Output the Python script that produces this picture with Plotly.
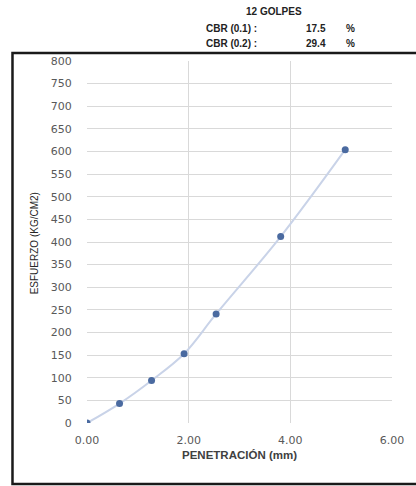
import plotly.graph_objects as go

penetracion = [0.0, 0.64, 1.27, 1.91, 2.54, 3.81, 5.08]
esfuerzo = [0, 43, 94, 153, 241, 412, 604]
header_title = "12 GOLPES"
cbr_labels = ["CBR (0.1) :", "CBR (0.2) :"]
cbr_values = ["17.5", "29.4"]

W, H = 416, 486
L, R, T, B = 87, 22, 61, 63
pw, ph = W - L - R, H - T - B

def px(x):
    return (x - L) / pw

def py(y):
    return (H - B - y) / ph

fig = go.Figure()
fig.add_trace(go.Scatter(
    x=penetracion, y=esfuerzo, mode="lines+markers",
    line=dict(color="#c9d3e8", width=2, shape="spline"),
    marker=dict(color="#4a6aa0", size=7),
    hoverinfo="x+y", showlegend=False))

tickfont = dict(family="DejaVu Sans, Liberation Sans", size=11, color="#595959")
fig.update_xaxes(range=[0, 6], dtick=2, tickformat=".2f", showgrid=True,
                 gridcolor="#d9d9d9", gridwidth=1, zeroline=False, showline=False,
                 tickfont=tickfont, ticks="outside", ticklen=7,
                 tickcolor="rgba(0,0,0,0)", fixedrange=True,
                 title=dict(text="<b>PENETRACIÓN (mm)</b>",
                            font=dict(family="Liberation Sans, Arial", size=11.5, color="#404040"),
                            standoff=4))
fig.update_yaxes(range=[0, 800], dtick=50, showgrid=True, gridcolor="#d9d9d9",
                 gridwidth=1, zeroline=False, showline=False, tickfont=tickfont,
                 ticks="outside", ticklen=12, tickcolor="rgba(0,0,0,0)", fixedrange=True)

hdr_font = dict(family="Liberation Sans, Arial", size=10, color="#222222")
annotations = [
    dict(text="ESFUERZO (KG/CM2)", x=px(35), y=py(243), textangle=-90,
         font=dict(family="Liberation Sans Narrow, Liberation Sans, Arial", size=10, color="#262626")),
    dict(text="<b>" + header_title + "</b>", x=px(275), y=py(12), font=hdr_font),
]
for i, (lab, val) in enumerate(zip(cbr_labels, cbr_values)):
    yy = py(28 + 16 * i)
    annotations.append(dict(text="<b>" + lab + "</b>", x=px(205), y=yy, xanchor="left", font=hdr_font))
    annotations.append(dict(text="<b>" + val + "</b>", x=px(317), y=yy, font=hdr_font))
    annotations.append(dict(text="<b>%</b>", x=px(352), y=yy, font=hdr_font))
for a in annotations:
    a.update(xref="paper", yref="paper", showarrow=False)
    a.setdefault("xanchor", "center")
    a.setdefault("yanchor", "middle")

fig.update_layout(
    width=W, height=H, margin=dict(l=L, r=R, t=T, b=B),
    paper_bgcolor="white", plot_bgcolor="white",
    annotations=annotations,
    shapes=[dict(type="rect", xref="paper", yref="paper",
                 x0=px(12), x1=px(422), y0=py(484), y1=py(53),
                 line=dict(color="#1a1a1a", width=2.5), layer="below")],
)

fig.write_html("out.html", config={"displayModeBar": False},
               post_script="document.body.style.margin='0';"
                           "document.documentElement.style.overflow='hidden';")
